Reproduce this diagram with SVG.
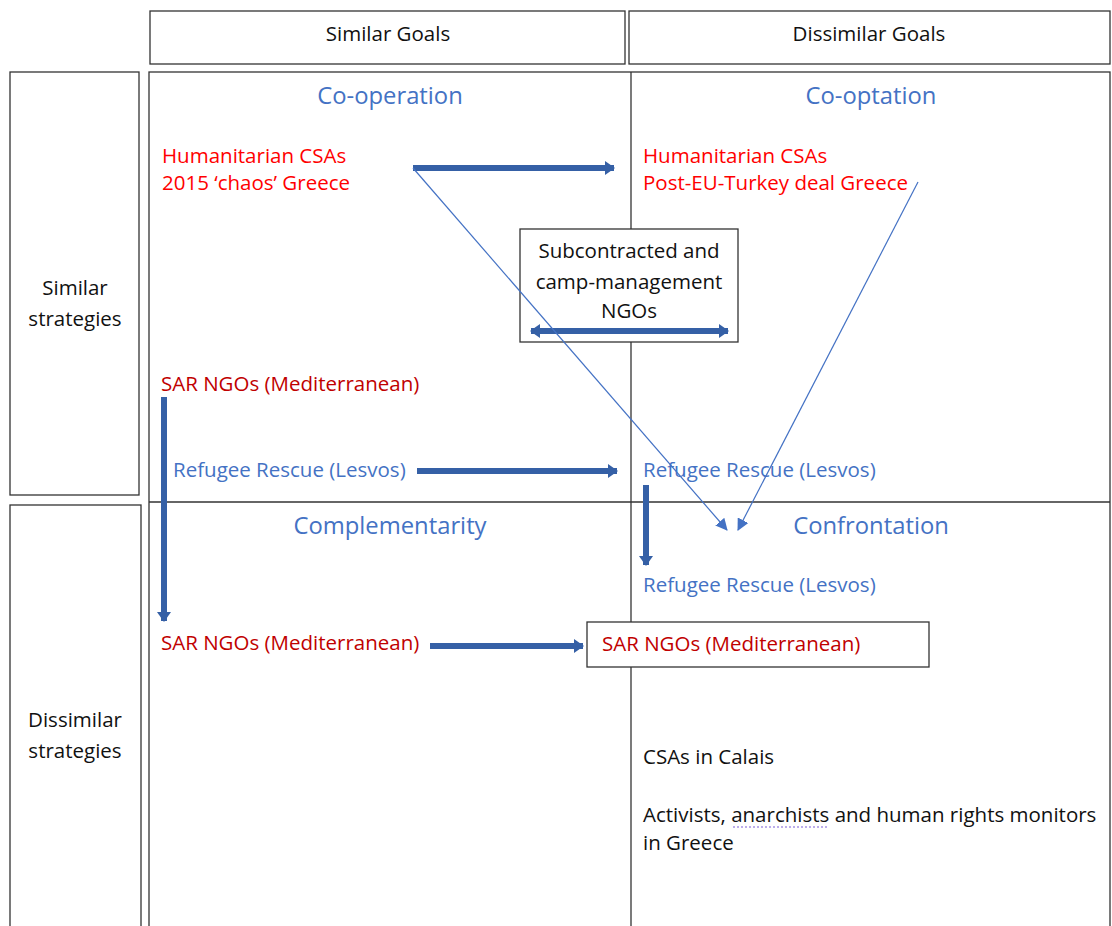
<svg xmlns="http://www.w3.org/2000/svg" width="1112" height="926" viewBox="0 0 1112 926">
<defs>
<style>
text{font-family:"Open Sans",Lato,"Liberation Sans",sans-serif;}
.box{fill:#fff;stroke:#333;stroke-width:1.3;}
.grid{fill:none;stroke:#333;stroke-width:1.3;}
.hdr{font-size:20.5px;fill:#111;text-anchor:middle;}
.title{font-size:23.8px;fill:#4472C4;text-anchor:middle;}
.red{font-size:20.5px;fill:#FF0000;}
.dred{font-size:20.5px;fill:#C00000;}
.blue{font-size:20.5px;fill:#4472C4;}
.blk{font-size:20.5px;fill:#111;}
.thick{stroke:#3560A6;stroke-width:6;fill:none;}
.thin{stroke:#4472C4;stroke-width:1.2;fill:none;}
</style>
<marker id="ah" markerWidth="10" markerHeight="16" refX="9" refY="8" orient="auto" markerUnits="userSpaceOnUse">
<path d="M0,1 L10,8 L0,15 Z" fill="#3560A6"/>
</marker>
<marker id="ahs" markerWidth="10" markerHeight="16" refX="1" refY="8" orient="auto" markerUnits="userSpaceOnUse">
<path d="M10,1 L0,8 L10,15 Z" fill="#3560A6"/>
</marker>
<marker id="th" markerWidth="12" markerHeight="12" refX="11" refY="6" orient="auto" markerUnits="userSpaceOnUse">
<path d="M0,0 L12,6 L0,12 Z" fill="#4472C4"/>
</marker>
</defs>
<rect width="1112" height="926" fill="#fff"/>

<g id="header-similar-goals">
<rect class="box" x="150" y="11" width="475" height="53"/>
<text class="hdr" x="388" y="41">Similar Goals</text>
</g>
<g id="header-dissimilar-goals">
<rect class="box" x="629" y="11" width="481" height="53"/>
<text class="hdr" x="869" y="41">Dissimilar Goals</text>
</g>
<g id="row-similar-strategies">
<rect class="box" x="10" y="72" width="129" height="423"/>
<text class="hdr" x="75" y="295">Similar</text>
<text class="hdr" x="75" y="326">strategies</text>
</g>
<g id="row-dissimilar-strategies">
<rect class="box" x="10" y="505" width="131" height="430"/>
<text class="hdr" x="75" y="727">Dissimilar</text>
<text class="hdr" x="75" y="758">strategies</text>
</g>
<g id="grid">
<rect class="grid" x="149" y="72" width="961" height="870"/>
<line class="grid" x1="631" y1="72" x2="631" y2="926"/>
<line class="grid" x1="149" y1="502" x2="1110" y2="502"/>
</g>

<g id="q-cooperation">
<text class="title" x="390" y="104">Co-operation</text>
</g>
<g id="q-cooptation">
<text class="title" x="871" y="104">Co-optation</text>
</g>
<g id="q-complementarity">
<text class="title" x="390" y="534">Complementarity</text>
</g>
<g id="q-confrontation">
<text class="title" x="871" y="534">Confrontation</text>
</g>

<g id="hum-2015">
<text class="red" x="162" y="163">Humanitarian CSAs</text>
<text class="red" x="162" y="190">2015 ‘chaos’ Greece</text>
</g>
<g id="hum-post">
<text class="red" x="643" y="163">Humanitarian CSAs</text>
<text class="red" x="643" y="190">Post-EU-Turkey deal Greece</text>
</g>
<g id="subcontracted">
<rect class="box" x="520" y="229" width="218" height="113"/>
<text class="blk" x="629" y="258" text-anchor="middle">Subcontracted and</text>
<text class="blk" x="629" y="289" text-anchor="middle">camp-management</text>
<text class="blk" x="629" y="318" text-anchor="middle">NGOs</text>
</g>
<g id="sar-top">
<text class="dred" x="161" y="391">SAR NGOs (Mediterranean)</text>
</g>
<g id="rr-left">
<text class="blue" x="173" y="477">Refugee Rescue (Lesvos)</text>
</g>
<g id="rr-right">
<text class="blue" x="643" y="477">Refugee Rescue (Lesvos)</text>
</g>
<g id="rr-confront">
<text class="blue" x="643" y="592">Refugee Rescue (Lesvos)</text>
</g>
<g id="sar-bottom">
<text class="dred" x="161" y="650">SAR NGOs (Mediterranean)</text>
</g>
<g id="sar-box">
<rect class="box" x="587" y="622" width="342" height="45"/>
<text class="dred" x="602" y="651">SAR NGOs (Mediterranean)</text>
</g>
<g id="calais">
<text class="blk" x="643" y="764">CSAs in Calais</text>
</g>
<g id="activists">
<text class="blk" x="643" y="822">Activists, anarchists and human rights monitors</text>
<text class="blk" x="643" y="850">in Greece</text>
<line x1="733" y1="827" x2="829" y2="827" stroke="#7a5cd6" stroke-width="1.2" stroke-dasharray="2,2"/>
</g>

<g id="connectors">
<line class="thick" x1="413" y1="168" x2="614" y2="168" marker-end="url(#ah)"/>
<line class="thick" x1="531" y1="331" x2="728" y2="331" marker-start="url(#ahs)" marker-end="url(#ah)"/>
<line class="thick" x1="164" y1="397" x2="164" y2="621" marker-end="url(#ah)"/>
<line class="thick" x1="417" y1="471" x2="617" y2="471" marker-end="url(#ah)"/>
<line class="thick" x1="646" y1="485" x2="646" y2="565" marker-end="url(#ah)"/>
<line class="thick" x1="430" y1="646" x2="583" y2="646" marker-end="url(#ah)"/>
<line class="thin" x1="413" y1="168" x2="727" y2="530" marker-end="url(#th)"/>
<line class="thin" x1="918" y1="182" x2="738" y2="530" marker-end="url(#th)"/>
</g>
</svg>
